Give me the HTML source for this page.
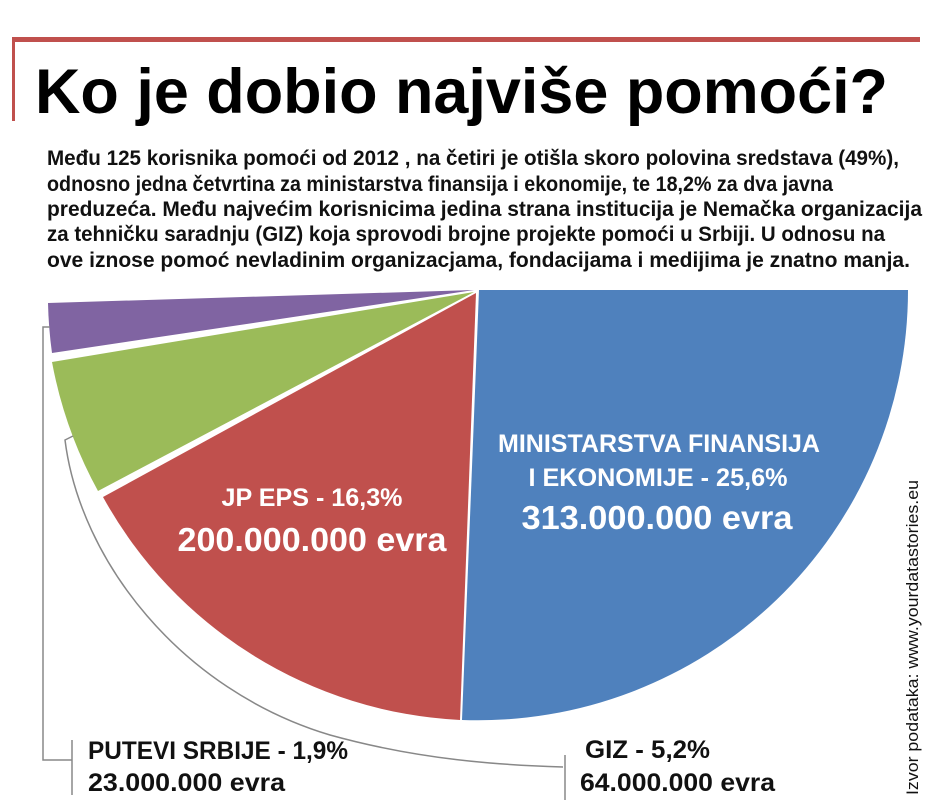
<!DOCTYPE html>
<html><head><meta charset="utf-8"><style>
html,body{margin:0;padding:0;background:#fff;width:925px;height:800px;overflow:hidden}
svg{display:block}
text{font-family:"Liberation Sans",sans-serif;font-weight:bold}
</style></head><body>
<svg width="925" height="800" viewBox="0 0 925 800">
<rect x="12" y="37" width="908" height="5" fill="#c0504d"/>
<rect x="12" y="37" width="3" height="84" fill="#c0504d"/>
<text x="35" y="113" font-size="63" textLength="853" lengthAdjust="spacingAndGlyphs">Ko je dobio najviše pomoći?</text>
<g font-size="21" fill="#111">
<text x="47" y="165" textLength="852" lengthAdjust="spacingAndGlyphs">Među 125 korisnika pomoći od 2012 , na četiri je otišla skoro polovina sredstava (49%),</text>
<text x="47" y="191" textLength="786" lengthAdjust="spacingAndGlyphs">odnosno jedna četvrtina za ministarstva finansija i ekonomije, te 18,2% za dva javna</text>
<text x="47" y="216" textLength="875" lengthAdjust="spacingAndGlyphs">preduzeća. Među najvećim korisnicima jedina strana institucija je Nemačka organizacija</text>
<text x="47" y="241" textLength="838" lengthAdjust="spacingAndGlyphs">za tehničku saradnju (GIZ) koja sprovodi brojne projekte pomoći u Srbiji. U odnosu na</text>
<text x="47" y="267" textLength="863" lengthAdjust="spacingAndGlyphs">ove iznose pomoć nevladinim organizacjama, fondacijama i medijima je znatno manja.</text>
</g>
<!-- pie -->
<path d="M479,290 L908,290 A430,430 0 0 1 462,720 Z" fill="#4f81bd"/>
<path d="M476,293 L460,720 A432,432 0 0 1 103,497 Z" fill="#c0504d"/>
<path d="M474,292 L98,491 A432,432 0 0 1 52,362 Z" fill="#9bbb59"/>
<path d="M474,290 L52,353 A432,432 0 0 1 48,303 Z" fill="#8064a2"/>
<!-- callout lines -->
<g fill="none" stroke="#888" stroke-width="1.5">
<polyline points="50,327 43,327 43,760 72,760"/>
<line x1="72" y1="740" x2="72" y2="795"/>
<path d="M73,436 L65,440 C80,560 180,690 330,735 C420,760 500,765 563,767"/>
<line x1="565" y1="755" x2="565" y2="800"/>
</g>
<g fill="#fff" text-anchor="middle">
<text x="659" y="452" font-size="25" textLength="322" lengthAdjust="spacingAndGlyphs">MINISTARSTVA FINANSIJA</text>
<text x="658" y="486" font-size="25" textLength="259" lengthAdjust="spacingAndGlyphs">I EKONOMIJE - 25,6%</text>
<text x="657" y="529" font-size="33" textLength="271" lengthAdjust="spacingAndGlyphs">313.000.000 evra</text>
<text x="312" y="506" font-size="25" textLength="181" lengthAdjust="spacingAndGlyphs">JP EPS - 16,3%</text>
<text x="312" y="551" font-size="33" textLength="269" lengthAdjust="spacingAndGlyphs">200.000.000 evra</text>
</g>
<g fill="#111">
<text x="88" y="759" font-size="25" textLength="260" lengthAdjust="spacingAndGlyphs">PUTEVI SRBIJE - 1,9%</text>
<text x="88" y="791" font-size="25" textLength="197" lengthAdjust="spacingAndGlyphs">23.000.000 evra</text>
<text x="585" y="758" font-size="25" textLength="125" lengthAdjust="spacingAndGlyphs">GIZ - 5,2%</text>
<text x="580" y="791" font-size="25" textLength="195" lengthAdjust="spacingAndGlyphs">64.000.000 evra</text>
</g>
<text transform="translate(918,795) rotate(-90)" font-size="17" style="font-weight:normal" fill="#111" textLength="315" lengthAdjust="spacingAndGlyphs">Izvor podataka: www.yourdatastories.eu</text>
</svg>
</body></html>
